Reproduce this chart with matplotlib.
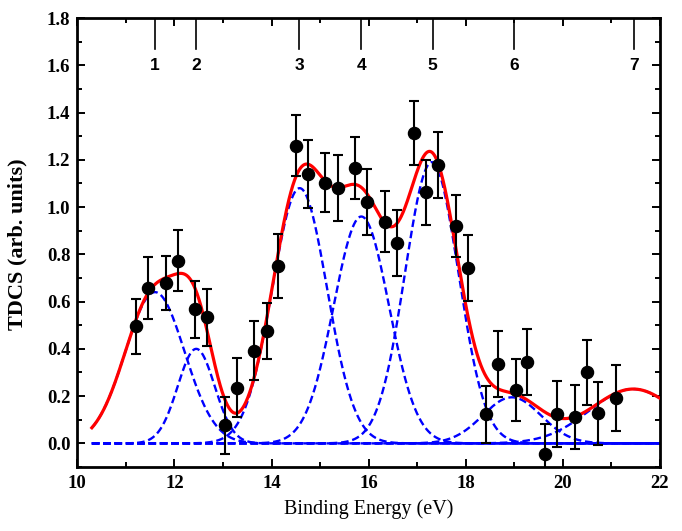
import numpy as np
import matplotlib
matplotlib.use("Agg")
import matplotlib.pyplot as plt
from matplotlib.ticker import MultipleLocator

# ---- data: measured TDCS points ----
energy = [11.21, 11.46, 11.83, 12.07, 12.42, 12.67, 13.04, 13.29, 13.63, 13.90,
          14.13, 14.51, 14.75, 15.10, 15.36, 15.72, 15.97, 16.34, 16.58, 16.94,
          17.19, 17.43, 17.80, 18.05, 18.41, 18.66, 19.03, 19.27, 19.63, 19.87,
          20.25, 20.49, 20.73, 21.09]
tdcs = [0.495, 0.657, 0.680, 0.773, 0.568, 0.533, 0.076, 0.235, 0.393, 0.475,
        0.750, 1.260, 1.140, 1.103, 1.080, 1.165, 1.022, 0.938, 0.847, 1.312,
        1.062, 1.178, 0.920, 0.742, 0.123, 0.335, 0.226, 0.345, -0.045, 0.124,
        0.112, 0.300, 0.127, 0.192]
tdcs_err = [0.115, 0.130, 0.115, 0.130, 0.120, 0.120, 0.120, 0.125, 0.125, 0.120,
            0.135, 0.130, 0.145, 0.125, 0.140, 0.130, 0.140, 0.130, 0.140, 0.135,
            0.136, 0.140, 0.130, 0.140, 0.120, 0.140, 0.130, 0.140, 0.125, 0.140,
            0.135, 0.137, 0.133, 0.140]

# ---- Gaussian fit components ----
peak_centers = [11.60, 12.45, 14.58, 15.85, 17.30, 18.95, 21.45]
peak_heights = [0.64, 0.40, 1.08, 0.96, 1.19, 0.195, 0.23]
peak_sigmas = [0.61, 0.38, 0.565, 0.57, 0.55, 0.60, 0.90]

# ---- orbital markers on top ----
orbital_pos = [11.60, 12.44, 14.57, 15.85, 17.32, 18.99, 21.46]
orbital_labels = ["1", "2", "3", "4", "5", "6", "7"]

fit_range = (10.3, 22.0)

fig = plt.figure(figsize=(6.82, 5.31), dpi=100)
ax = fig.add_axes([0.1133, 0.1205, 0.8544, 0.8456])

xg = np.linspace(fit_range[0], fit_range[1], 1200)
total = np.zeros_like(xg)
for c, h, s in zip(peak_centers, peak_heights, peak_sigmas):
    g = h * np.exp(-(xg - c) ** 2 / (2 * s ** 2))
    total += g
    ax.plot(xg, g, color="#0000ff", lw=1.7, ls=(0, (3.2, 1.6)), zorder=2)

ax.plot(xg, total, color="#ff0000", lw=2.3, zorder=3)

ax.errorbar(energy, tdcs, yerr=tdcs_err, fmt="o", color="black", ms=8.7,
            elinewidth=1.5, capsize=3.5, capthick=1.5, zorder=4)

for p, lab in zip(orbital_pos, orbital_labels):
    ax.plot([p, p], [1.667, 1.8], color="black", lw=1.2, zorder=1)
    ax.text(p, 1.60, lab, ha="center", va="center", fontsize=12.5,
            fontweight="bold", family="Liberation Sans")

ax.set_xlim(10, 22)
ax.set_ylim(-0.1, 1.8)
ax.xaxis.set_major_locator(MultipleLocator(2))
ax.xaxis.set_minor_locator(MultipleLocator(1))
ax.yaxis.set_major_locator(MultipleLocator(0.2))
ax.yaxis.set_minor_locator(MultipleLocator(0.1))
ax.tick_params(which="both", direction="in", top=True, right=True, width=1.4)
ax.tick_params(which="major", length=6)
ax.tick_params(which="minor", length=3.5)
ax.tick_params(axis="x", pad=6)
ax.tick_params(axis="y", pad=5)
for sp in ax.spines.values():
    sp.set_linewidth(2.0)

xt = list(range(10, 23, 2))
ax.set_xticks(xt)
ax.set_xticklabels([str(v) for v in xt],
                   family="Liberation Serif", fontweight="bold", fontsize=13.5)
yt = np.round(np.arange(0, 1.81, 0.2), 1)
ax.set_yticks(yt)
ax.set_yticklabels([f"{v:.1f}" for v in yt],
                   family="Liberation Serif", fontweight="bold", fontsize=13.5)
ax.set_xlim(10, 22)
ax.set_ylim(-0.1, 1.8)

fig.text(0.5405, 0.041, "Binding Energy (eV)", ha="center", va="center",
         family="Liberation Serif", fontsize=14.5)
fig.text(0.026, 0.54, "TDCS (arb. units)", ha="center", va="center",
         rotation=90, family="Liberation Serif", fontweight="bold", fontsize=16)

fig.savefig("out.png", dpi=100)
